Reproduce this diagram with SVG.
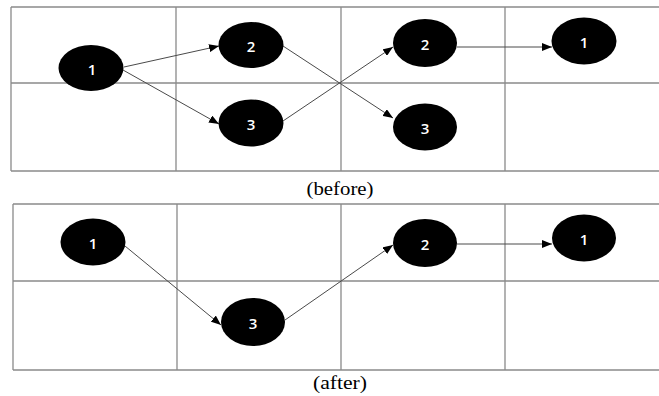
<svg xmlns="http://www.w3.org/2000/svg" width="659" height="396" viewBox="0 0 659 396">
<style>
.grid{stroke:#8a8a8a;stroke-width:1.3;fill:none}
.node{fill:#000}
.lbl{fill:#fff;font-family:"Open Sans","Liberation Sans",sans-serif;font-size:15px;font-weight:600;text-anchor:middle}
.edge{stroke:#4a4a4a;stroke-width:1;fill:none;marker-end:url(#ah)}
.cap{font-family:"Liberation Serif",serif;font-size:19px;fill:#000;text-anchor:middle}
</style>
<defs>
<marker id="ah" markerUnits="userSpaceOnUse" markerWidth="11" markerHeight="8" refX="10" refY="4" orient="auto">
<path d="M0,0 L10,4 L0,8 z" fill="#000"/>
</marker>
</defs>
<rect width="659" height="396" fill="#fff"/>
<g id="grid-before" class="grid">
<path d="M11,7 H659 M11,83 H659 M11,171 H659 M11,7 V171 M176,7 V171 M341,7 V171 M505,7 V171"/>
</g>
<g id="grid-after" class="grid">
<path d="M13,204 H659 M13,281 H659 M13,370 H659 M13,204 V370 M177,204 V370 M341,204 V370 M505,204 V370"/>
</g>
<g id="connectors">
<path class="edge" d="M124,67 L219,46"/>
<path class="edge" d="M123,70 L219,124"/>
<path class="edge" d="M283,46 L393,118"/>
<path class="edge" d="M283,121 L393,47"/>
<path class="edge" d="M457,47 L552,47"/>
<path class="edge" d="M125,246 L221,325"/>
<path class="edge" d="M285,320 L393,245"/>
<path class="edge" d="M457,244 L552,244"/>
</g>
<g id="b-n1"><ellipse class="node" cx="91" cy="68" rx="32.5" ry="23"/><text class="lbl" x="92" y="75">1</text></g>
<g id="b-n2a"><ellipse class="node" cx="251" cy="45" rx="32.5" ry="23"/><text class="lbl" x="251" y="52">2</text></g>
<g id="b-n3a"><ellipse class="node" cx="251" cy="123" rx="32.5" ry="23.5"/><text class="lbl" x="251" y="130">3</text></g>
<g id="b-n2b"><ellipse class="node" cx="425" cy="43" rx="32" ry="24"/><text class="lbl" x="425" y="50">2</text></g>
<g id="b-n3b"><ellipse class="node" cx="425" cy="127" rx="32" ry="23.5"/><text class="lbl" x="425" y="134">3</text></g>
<g id="b-n1b"><ellipse class="node" cx="584" cy="41" rx="32.5" ry="23.5"/><text class="lbl" x="584" y="48">1</text></g>
<g id="a-n1"><ellipse class="node" cx="93" cy="242" rx="32.5" ry="23.5"/><text class="lbl" x="93" y="249">1</text></g>
<g id="a-n3"><ellipse class="node" cx="253" cy="322" rx="32" ry="24"/><text class="lbl" x="253" y="329">3</text></g>
<g id="a-n2"><ellipse class="node" cx="425" cy="243" rx="32" ry="24"/><text class="lbl" x="425" y="250">2</text></g>
<g id="a-n1b"><ellipse class="node" cx="584" cy="238" rx="32" ry="23.5"/><text class="lbl" x="584" y="245">1</text></g>
<text class="cap" x="340" y="195" textLength="67" lengthAdjust="spacingAndGlyphs">(before)</text>
<text class="cap" x="340" y="389" textLength="54" lengthAdjust="spacingAndGlyphs">(after)</text>
</svg>
